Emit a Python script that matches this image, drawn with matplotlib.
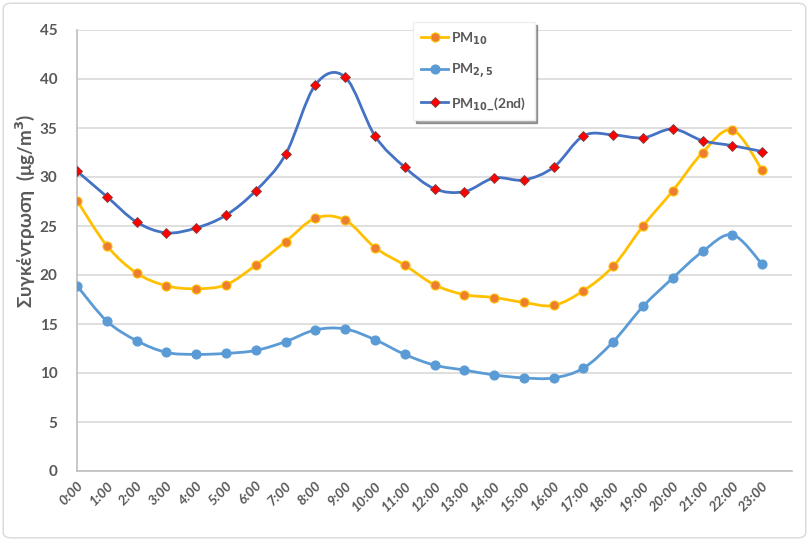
import numpy as np
import matplotlib
matplotlib.use("Agg")
import matplotlib.pyplot as plt
import matplotlib.lines as mlines
from matplotlib.path import Path
from matplotlib.patches import PathPatch, FancyBboxPatch

hours = [f"{h}:00" for h in range(24)]
pm10 = [27.6, 23.0, 20.2, 18.9, 18.6, 19.0, 21.0, 23.4, 25.8, 25.6, 22.8, 21.0,
        19.0, 18.0, 17.7, 17.2, 16.9, 18.4, 20.9, 25.0, 28.6, 32.5, 34.8, 30.7]
pm25 = [18.9, 15.3, 13.3, 12.1, 11.9, 12.0, 12.3, 13.2, 14.4, 14.5, 13.4, 11.9,
        10.8, 10.3, 9.8, 9.5, 9.5, 10.5, 13.2, 16.8, 19.7, 22.4, 24.1, 21.1]
pm10_2nd = [30.6, 28.0, 25.4, 24.3, 24.8, 26.1, 28.6, 32.3, 39.4, 40.2, 34.2, 31.0,
            28.8, 28.5, 29.9, 29.7, 31.0, 34.2, 34.3, 34.0, 34.9, 33.7, 33.2, 32.6]
series_names = ["PM$_{\\mathbf{10}}$", "PM$_{\\mathbf{2,5}}$", "PM$_{\\mathbf{10}}$_(2nd)"]

plt.rcParams['font.family'] = ['Lato', 'DejaVu Sans']
TXT = '#595959'

fig = plt.figure(figsize=(8.09, 5.40), dpi=100)
ax = fig.add_axes([77/809, 1-471/540, (792-77)/809, (471-30)/540])

# figure border
fig.patches.append(FancyBboxPatch((0.004, 0.004), 0.992, 0.99, boxstyle="round,pad=0,rounding_size=0.01",
                                  transform=fig.transFigure, fill=False, edgecolor='#D9D9D9', lw=1.0))


def smooth_path(x, y):
    x = np.asarray(x, float); y = np.asarray(y, float)
    pts = np.column_stack([x, y])
    n = len(pts)
    verts = [pts[0]]
    codes = [Path.MOVETO]
    for i in range(n - 1):
        p0 = pts[i - 1] if i > 0 else pts[i]
        p1 = pts[i]
        p2 = pts[i + 1]
        p3 = pts[i + 2] if i + 2 < n else pts[i + 1]
        c1 = p1 + (p2 - p0) / 6.0
        c2 = p2 - (p3 - p1) / 6.0
        verts += [c1, c2, p2]
        codes += [Path.CURVE4] * 3
    return Path(verts, codes)


xs = np.arange(len(hours))
styles = [
    dict(data=pm10, color='#FFC000', marker='o', mfc='#ED7D31', mec='#FFC000', ms=6.5, mew=0.8),
    dict(data=pm25, color='#5B9BD5', marker='o', mfc='#5B9BD5', mec='#5B9BD5', ms=6.5, mew=0.8),
    dict(data=pm10_2nd, color='#4472C4', marker='D', mfc='#FF0000', mec='#7F3F3F', ms=5.5, mew=0.6),
]
for name, st in zip(series_names, styles):
    patch = PathPatch(smooth_path(xs, st['data']), fill=False, edgecolor=st['color'], lw=2.0, zorder=3)
    ax.add_patch(patch)
    ax.plot(xs, st['data'], linestyle='None', marker=st['marker'],
            mfc=st['mfc'], mec=st['mec'], ms=st['ms'], mew=st['mew'], zorder=4)

ax.set_xlim(0, 24)
ax.set_ylim(0, 45)
ax.set_yticks(np.arange(0, 46, 5))
ax.set_xticks(xs)
ax.set_xticklabels(hours, rotation=45, ha='right', rotation_mode='anchor',
                   fontsize=10, fontweight='bold', color=TXT, fontstyle='italic')
for lbl in ax.get_yticklabels():
    lbl.set_fontsize(11); lbl.set_fontweight('bold'); lbl.set_color(TXT)
ax.tick_params(axis='both', length=0)
ax.tick_params(axis='y', pad=14)
ax.tick_params(axis='x', pad=6)
ax.grid(axis='y', color='#D9D9D9', lw=1.2)
ax.set_axisbelow(True)
for s in ['top', 'right']:
    ax.spines[s].set_visible(False)
for s in ['left', 'bottom']:
    ax.spines[s].set_color('#BFBFBF')
    ax.spines[s].set_linewidth(1.2)

fig.text(25/809, 1-211/540, "Συγκέντρωση  (μg/m$^{\\mathbf{3}}$)", rotation=90, ha='center', va='center',
         fontsize=13.5, fontweight='bold', color=TXT)

leg_handles = []
for name, st in zip(series_names, styles):
    leg_handles.append(mlines.Line2D([], [], color=st['color'], lw=2.0, marker=st['marker'],
                                     mfc=st['mfc'], mec=st['mec'], ms=st['ms'], mew=st['mew'], label=name))
leg = fig.legend(handles=leg_handles, loc='upper left', bbox_to_anchor=(413/809, 1-22/540),
                 frameon=True, fancybox=False, shadow={'color': '#555555', 'alpha': 0.55},
                 prop={'weight': 'bold', 'size': 10}, labelcolor=TXT, numpoints=1,
                 handlelength=1.9, handletextpad=0.25, labelspacing=1.05, borderpad=0.6,
                 borderaxespad=0, edgecolor='#EEEEEE', framealpha=1.0)

fig.savefig("out.png", dpi=100)
